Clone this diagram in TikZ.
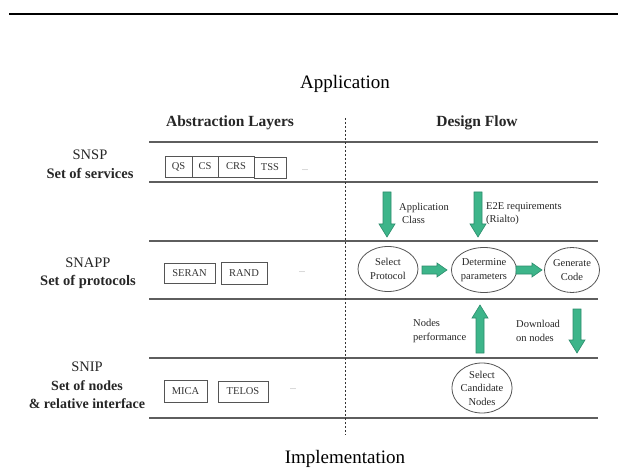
\documentclass[tikz,border=0pt]{standalone}
\usepackage{fontspec}
\setmainfont{Liberation Serif}
\usetikzlibrary{shapes.geometric}
\definecolor{gfill}{HTML}{3DB58A}
\definecolor{gline}{HTML}{2C8C6C}
\definecolor{rule}{HTML}{5E5E5E}
\definecolor{boxc}{HTML}{555555}
\newcommand\blockdown[3]{\filldraw[garrow] (#1-4,#2) -- (#1+4,#2) -- (#1+4,#3-13) -- (#1+8,#3-13) -- (#1,#3) -- (#1-8,#3-13) -- (#1-4,#3-13) -- cycle;}
\newcommand\blockup[3]{\filldraw[garrow] (#1-4,#2) -- (#1+4,#2) -- (#1+4,#3+13) -- (#1+8,#3+13) -- (#1,#3) -- (#1-8,#3+13) -- (#1-4,#3+13) -- cycle;}
\newcommand\blockright[3]{\filldraw[garrow] (#2,#1-4) -- (#3-10,#1-4) -- (#3-10,#1-7) -- (#3,#1) -- (#3-10,#1+7) -- (#3-10,#1+4) -- (#2,#1+4) -- cycle;}
\begin{document}
\begin{tikzpicture}[x=1pt,y=-1pt,
  garrow/.style={fill=gfill,draw=gline,line width=0.6pt},
  layerline/.style={draw=rule,line width=1.1pt},
  itembox/.style={draw=boxc,line width=0.8pt,inner sep=0pt,minimum height=21pt,font=\fontsize{10.5}{12}\selectfont,text=black!80},
  flowell/.style={ellipse,draw=boxc,line width=0.8pt,inner sep=0pt,align=center,font=\fontsize{10.5}{13.5}\selectfont,text=black!85},
  smalltxt/.style={align=left,anchor=west,inner sep=0pt,font=\fontsize{10.5}{13.5}\selectfont,text=black!85},
  title/.style={inner sep=0pt,font=\fontsize{19}{22}\selectfont},
  head/.style={inner sep=0pt,font=\fontsize{15.5}{18}\selectfont\bfseries,text=black!85},
  layname/.style={inner sep=0pt,align=center,font=\fontsize{14.5}{18.5}\selectfont,text=black!85},
  dots/.style={inner sep=0pt,font=\fontsize{8}{9}\selectfont,text=black!50}]
\useasboundingbox (0,0) rectangle (619,468);
% top rule
\coordinate (tl) at (9,14);
\coordinate (tr) at (618,14);
\draw[line width=1.1pt] (tl) -- (tr);
% titles
\node[title] (app) at (345,84) {Application};
\node[title,anchor=base] (impl) at (345,463) {Implementation};
\node[head] (abs) at (230,123) {Abstraction Layers};
\node[head] (df) at (477,123) {Design Flow};
% layer lines
\foreach \n/\y in {a/142,b/182,c/241,d/299,e/358,f/418}{
  \coordinate (L\n l) at (149,\y);
  \coordinate (L\n r) at (598,\y);
  \draw[layerline] (L\n l) -- (L\n r);
}
% dashed separator
\coordinate (ds) at (345,118);
\coordinate (de) at (345,435);
\draw[black!80,line width=0.9pt,dash pattern=on 2pt off 2pt] (ds) -- (de);
% layer names
\node[layname] (snsp) at (90,155) {SNSP};
\node[layname,font=\fontsize{14.5}{18}\selectfont\bfseries] (sos) at (90,173) {Set of services};
\node[layname] (snapp) at (88,263) {SNAPP};
\node[layname,font=\fontsize{14.5}{18}\selectfont\bfseries] (sop) at (88,282) {Set of protocols};
\node[layname] (snip) at (87,367) {SNIP};
\node[layname,font=\fontsize{14}{18}\selectfont\bfseries] (son) at (87,386) {Set of nodes};
\node[layname,font=\fontsize{14}{18}\selectfont\bfseries] (rel) at (87,404) {\& relative interface};
% service boxes
\node[itembox,minimum width=27pt] (qs) at (178.5,166.5) {QS};
\node[itembox,minimum width=26pt] (cs) at (205,166.5) {CS};
\node[itembox,minimum width=36pt] (crs) at (236,166.5) {CRS};
\node[itembox,minimum width=32pt] (tss) at (270,167.5) {TSS};
\node[dots] (d1) at (305,170) {...};
% protocol boxes
\node[itembox,minimum width=51pt,minimum height=20pt] (seran) at (189.5,273) {SERAN};
\node[itembox,minimum width=46pt,minimum height=22pt] (rand) at (244,273) {RAND};
\node[dots] (d2) at (302,272) {...};
% node boxes
\node[itembox,minimum width=43pt,minimum height=22pt] (mica) at (185.5,391) {MICA};
\node[itembox,minimum width=50pt,minimum height=21pt] (telos) at (243,391.5) {TELOS};
\node[dots] (d3) at (293,389) {...};
% flow ellipses
\node[flowell,minimum width=60pt,minimum height=45pt] (sp) at (388,269) {Select\\Protocol};
\node[flowell,minimum width=58pt,minimum height=45pt] (dp) at (484,270) {Determine\\parameters};
\node[flowell,minimum width=55pt,minimum height=45pt] (gc) at (572,270) {Generate\\Code};
\node[flowell,minimum width=60pt,minimum height=50pt] (scn) at (482,388) {Select\\Candidate\\Nodes};
% flow labels
\node[smalltxt] (lac) at (399,213.5) {Application\\\hspace{3pt}Class};
\node[smalltxt] (le2e) at (486,213.5) {E2E requirements\\(Rialto)};
\node[smalltxt] (lnp) at (413,331) {Nodes\\performance};
\node[smalltxt] (ldl) at (516,331) {Download\\on nodes};
% block arrows
\blockdown{387}{192}{237}
\blockdown{478}{192}{237}
\blockright{270}{422}{447}
\blockright{270}{516}{542}
\blockup{480}{353}{305}
\blockdown{577}{309}{353}
\end{tikzpicture}
\end{document}
